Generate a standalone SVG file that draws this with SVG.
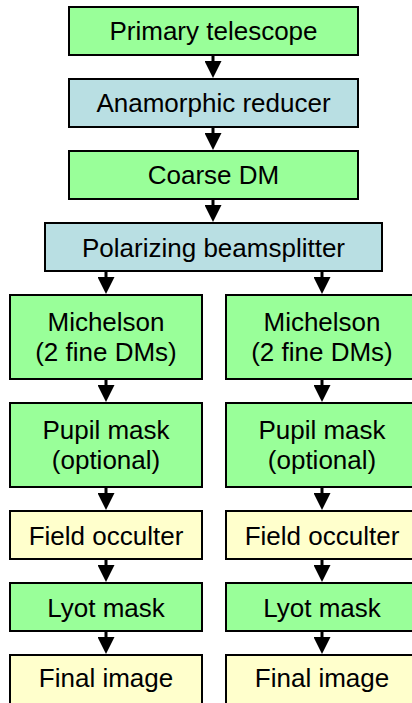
<svg xmlns="http://www.w3.org/2000/svg" width="412" height="703" viewBox="0 0 412 703">
  <style>
    .box { stroke: #000; stroke-width: 2; }
    .green { fill: #99ff99; }
    .blue { fill: #b9dfe3; }
    .yellow { fill: #ffffcc; }
    text { font-family: "Liberation Sans", Arial, sans-serif; font-size: 26px; fill: #000; text-anchor: middle; }
    .conn { stroke: #000; stroke-width: 3; fill: none; marker-end: url(#head); }
  </style>
  <defs>
    <marker id="head" viewBox="0 0 17 17" refX="9" refY="8.5" markerWidth="17" markerHeight="17" markerUnits="userSpaceOnUse" orient="auto">
      <path d="M0,0 L17,8.5 L0,17 Z" fill="#000"/>
    </marker>
  </defs>

  <rect width="412" height="703" fill="#fff"/>

  <!-- main optical train -->
  <g id="primary-telescope">
    <rect class="box green" x="69" y="7" width="289" height="48"/>
    <text x="213.5" y="40">Primary telescope</text>
  </g>
  <g id="anamorphic-reducer">
    <rect class="box blue" x="69" y="79" width="289" height="48"/>
    <text x="213.5" y="112">Anamorphic reducer</text>
  </g>
  <g id="coarse-dm">
    <rect class="box green" x="69" y="151" width="289" height="48"/>
    <text x="213.5" y="184">Coarse DM</text>
  </g>
  <g id="polarizing-beamsplitter">
    <rect class="box blue" x="45" y="223" width="337" height="48"/>
    <text x="213.5" y="256.5">Polarizing beamsplitter</text>
  </g>

  <!-- left polarization channel -->
  <g id="michelson-left">
    <rect class="box green" x="10" y="295" width="192" height="84"/>
    <text x="106" y="331">Michelson</text>
    <text x="106" y="361">(2 fine DMs)</text>
  </g>
  <g id="pupil-mask-left">
    <rect class="box green" x="10" y="403" width="192" height="84"/>
    <text x="106" y="439">Pupil mask</text>
    <text x="106" y="469">(optional)</text>
  </g>
  <g id="field-occulter-left">
    <rect class="box yellow" x="10" y="511" width="192" height="48"/>
    <text x="106" y="544.5">Field occulter</text>
  </g>
  <g id="lyot-mask-left">
    <rect class="box green" x="10" y="583" width="192" height="48"/>
    <text x="106" y="616.5">Lyot mask</text>
  </g>
  <g id="final-image-left">
    <rect class="box yellow" x="10" y="655" width="192" height="60"/>
    <text x="106" y="687">Final image</text>
  </g>

  <!-- right polarization channel -->
  <g id="michelson-right">
    <rect class="box green" x="226" y="295" width="192" height="84"/>
    <text x="322" y="331">Michelson</text>
    <text x="322" y="361">(2 fine DMs)</text>
  </g>
  <g id="pupil-mask-right">
    <rect class="box green" x="226" y="403" width="192" height="84"/>
    <text x="322" y="439">Pupil mask</text>
    <text x="322" y="469">(optional)</text>
  </g>
  <g id="field-occulter-right">
    <rect class="box yellow" x="226" y="511" width="192" height="48"/>
    <text x="322" y="544.5">Field occulter</text>
  </g>
  <g id="lyot-mask-right">
    <rect class="box green" x="226" y="583" width="192" height="48"/>
    <text x="322" y="616.5">Lyot mask</text>
  </g>
  <g id="final-image-right">
    <rect class="box yellow" x="226" y="655" width="192" height="60"/>
    <text x="322" y="687">Final image</text>
  </g>

  <!-- connectors -->
  <g id="connectors">
    <line class="conn" x1="213" y1="56" x2="213" y2="70"/>
    <line class="conn" x1="213" y1="128" x2="213" y2="142"/>
    <line class="conn" x1="213" y1="200" x2="213" y2="214"/>
    <line class="conn" x1="106" y1="272" x2="106" y2="286"/>
    <line class="conn" x1="322" y1="272" x2="322" y2="286"/>
    <line class="conn" x1="106" y1="380" x2="106" y2="394"/>
    <line class="conn" x1="322" y1="380" x2="322" y2="394"/>
    <line class="conn" x1="106" y1="488" x2="106" y2="502"/>
    <line class="conn" x1="322" y1="488" x2="322" y2="502"/>
    <line class="conn" x1="106" y1="560" x2="106" y2="574"/>
    <line class="conn" x1="322" y1="560" x2="322" y2="574"/>
    <line class="conn" x1="106" y1="632" x2="106" y2="646"/>
    <line class="conn" x1="322" y1="632" x2="322" y2="646"/>
  </g>
</svg>
